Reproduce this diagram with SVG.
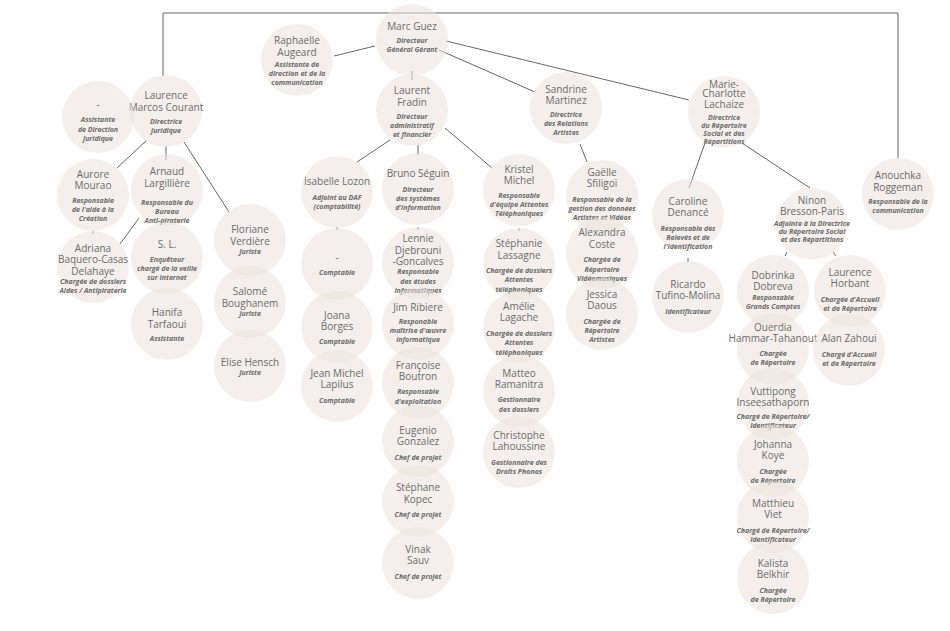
<svg xmlns="http://www.w3.org/2000/svg" width="950" height="631" viewBox="0 0 950 631">
<style>
.n circle{fill:#ebe1dc;fill-opacity:0.55}
.n text{font-family:"Open Sans","Liberation Sans",sans-serif;text-anchor:middle}
.nm{font-size:10px;fill:#6b6b6b}
.r{font-size:7px;fill:#6b6b6b;font-style:italic;font-weight:bold}
#c line,#c polyline{stroke:#666;stroke-width:1;fill:none}
</style>
<rect width="950" height="631" fill="#fff"/>
<g id="c">
<polyline points="163,76 163,13 898,13 898,158"/>
<line x1="375" y1="46" x2="334" y2="56"/>
<line x1="412" y1="71" x2="412" y2="80"/>
<line x1="439" y1="50" x2="535" y2="92"/>
<line x1="446" y1="41" x2="689" y2="100"/>
<line x1="146" y1="141" x2="117" y2="168"/>
<line x1="166" y1="146" x2="166" y2="160"/>
<line x1="184" y1="142" x2="229" y2="212"/>
<line x1="139" y1="218" x2="120" y2="244"/>
<line x1="93" y1="231" x2="93" y2="234"/>
<line x1="390" y1="140" x2="357" y2="162"/>
<line x1="418" y1="145" x2="418" y2="155"/>
<line x1="445" y1="128" x2="492" y2="168"/>
<line x1="337" y1="227" x2="337" y2="230"/>
<line x1="418" y1="227" x2="418" y2="230"/>
<line x1="519" y1="228" x2="519" y2="231"/>
<line x1="580" y1="144" x2="587" y2="162"/>
<line x1="705" y1="143" x2="689" y2="188"/>
<line x1="742" y1="143" x2="810" y2="188"/>
<line x1="688" y1="258" x2="688" y2="262"/>
<line x1="787" y1="252" x2="785" y2="256"/>
<line x1="833" y1="252" x2="836" y2="256"/>
</g>
<g id="marc" class="n"><circle cx="412" cy="40" r="36"/><text class="nm" x="412" y="30">Marc Guez</text><text class="r" x="412" y="43">Directeur</text><text class="r" x="412" y="52">Général Gérant</text></g>
<g id="raphaelle" class="n"><circle cx="297" cy="60" r="36"/><text class="nm" x="297" y="44">Raphaelle</text><text class="nm" x="297" y="56">Augeard</text><text class="r" x="297" y="67">Assistante de</text><text class="r" x="297" y="76">direction et de la</text><text class="r" x="297" y="85">communication</text></g>
<g id="fradin" class="n"><circle cx="412" cy="110" r="36"/><text class="nm" x="412" y="94">Laurent</text><text class="nm" x="412" y="106">Fradin</text><text class="r" x="412" y="119">Directeur</text><text class="r" x="412" y="128">administratif</text><text class="r" x="412" y="137">et financier</text></g>
<g id="sandrine" class="n"><circle cx="566" cy="108" r="36"/><text class="nm" x="566" y="93">Sandrine</text><text class="nm" x="566" y="104">Martinez</text><text class="r" x="566" y="117">Directrice</text><text class="r" x="566" y="126">des Relations</text><text class="r" x="566" y="135">Artistes</text></g>
<g id="mariecharlotte" class="n"><circle cx="724" cy="112" r="36"/><text class="nm" x="724" y="88">Marie-</text><text class="nm" x="724" y="97">Charlotte</text><text class="nm" x="724" y="108">Lachaize</text><text class="r" x="724" y="120">Directrice</text><text class="r" x="724" y="128">du Répertoire</text><text class="r" x="724" y="136">Social et des</text><text class="r" x="724" y="144">Répartitions</text></g>
<g id="anouchka" class="n"><circle cx="898" cy="194" r="36"/><text class="nm" x="898" y="179">Anouchka</text><text class="nm" x="898" y="191">Roggeman</text><text class="r" x="898" y="204">Responsable de la</text><text class="r" x="898" y="213">communication</text></g>
<g id="laurence" class="n"><circle cx="166" cy="111" r="36"/><text class="nm" x="166" y="99">Laurence</text><text class="nm" x="166" y="111">Marcos Courant</text><text class="r" x="166" y="124">Directrice</text><text class="r" x="166" y="133">juridique</text></g>
<g id="assistante" class="n"><circle cx="98" cy="117" r="36"/><text class="nm" x="98" y="108">-</text><text class="r" x="98" y="122">Assistante</text><text class="r" x="98" y="132">de Direction</text><text class="r" x="98" y="141">juridique</text></g>
<g id="aurore" class="n"><circle cx="93" cy="195" r="36"/><text class="nm" x="93" y="178">Aurore</text><text class="nm" x="93" y="189">Mourao</text><text class="r" x="93" y="203">Responsable</text><text class="r" x="93" y="212">de l'aide à la</text><text class="r" x="93" y="221">Création</text></g>
<g id="arnaud" class="n"><circle cx="167" cy="190" r="36"/><text class="nm" x="167" y="175">Arnaud</text><text class="nm" x="167" y="187">Largillière</text><text class="r" x="167" y="205">Responsable du</text><text class="r" x="167" y="214">Bureau</text><text class="r" x="167" y="223">Anti-piraterie</text></g>
<g id="adriana" class="n"><circle cx="93" cy="267" r="36"/><text class="nm" x="93" y="252">Adriana</text><text class="nm" x="93" y="263">Baquero-Casas</text><text class="nm" x="93" y="275">Delahaye</text><text class="r" x="93" y="284">Chargée de dossiers</text><text class="r" x="93" y="293">Aides / Antipiraterie</text></g>
<g id="sl" class="n"><circle cx="167" cy="258" r="36"/><text class="nm" x="167" y="248">S. L.</text><text class="r" x="167" y="262">Enquêteur</text><text class="r" x="167" y="271">chargé de la veille</text><text class="r" x="167" y="280">sur Internet</text></g>
<g id="hanifa" class="n"><circle cx="167" cy="324" r="36"/><text class="nm" x="167" y="316">Hanifa</text><text class="nm" x="167" y="328">Tarfaoui</text><text class="r" x="167" y="341">Assistante</text></g>
<g id="floriane" class="n"><circle cx="250" cy="240" r="36"/><text class="nm" x="250" y="233">Floriane</text><text class="nm" x="250" y="245">Verdière</text><text class="r" x="250" y="254">Juriste</text></g>
<g id="salome" class="n"><circle cx="250" cy="302" r="36"/><text class="nm" x="250" y="295">Salomé</text><text class="nm" x="250" y="307">Boughanem</text><text class="r" x="250" y="316">Juriste</text></g>
<g id="elise" class="n"><circle cx="250" cy="366" r="36"/><text class="nm" x="250" y="366">Elise Hensch</text><text class="r" x="250" y="375">Juriste</text></g>
<g id="isabelle" class="n"><circle cx="337" cy="192" r="36"/><text class="nm" x="337" y="185">Isabelle Lozon</text><text class="r" x="337" y="200">Adjoint au DAF</text><text class="r" x="337" y="209">(comptabilité)</text></g>
<g id="comptable" class="n"><circle cx="337" cy="264" r="36"/><text class="nm" x="337" y="261">-</text><text class="r" x="337" y="275">Comptable</text></g>
<g id="joana" class="n"><circle cx="337" cy="327" r="36"/><text class="nm" x="337" y="319">Joana</text><text class="nm" x="337" y="330">Borges</text><text class="r" x="337" y="344">Comptable</text></g>
<g id="jeanmichel" class="n"><circle cx="337" cy="386" r="36"/><text class="nm" x="337" y="377">Jean Michel</text><text class="nm" x="337" y="388">Lapilus</text><text class="r" x="337" y="403">Comptable</text></g>
<g id="bruno" class="n"><circle cx="418" cy="189" r="36"/><text class="nm" x="418" y="177">Bruno Séguin</text><text class="r" x="418" y="192">Directeur</text><text class="r" x="418" y="201">des systèmes</text><text class="r" x="418" y="210">d'information</text></g>
<g id="lennie" class="n"><circle cx="418" cy="263" r="36"/><text class="nm" x="418" y="242">Lennie</text><text class="nm" x="418" y="254">Djebrouni</text><text class="nm" x="418" y="265">-Goncalves</text><text class="r" x="418" y="274">Responsable</text><text class="r" x="418" y="284">des études</text><text class="r" x="418" y="293">informatiques</text></g>
<g id="jim" class="n"><circle cx="418" cy="324" r="36"/><text class="nm" x="418" y="311">Jim Ribiere</text><text class="r" x="418" y="324">Responable</text><text class="r" x="418" y="333">maîtrise d'œuvre</text><text class="r" x="418" y="342">informatique</text></g>
<g id="francoise" class="n"><circle cx="418" cy="383" r="36"/><text class="nm" x="418" y="369">Françoise</text><text class="nm" x="418" y="380">Boutron</text><text class="r" x="418" y="394">Responsable</text><text class="r" x="418" y="404">d'exploitation</text></g>
<g id="eugenio" class="n"><circle cx="418" cy="441" r="36"/><text class="nm" x="418" y="434">Eugenio</text><text class="nm" x="418" y="445">Gonzalez</text><text class="r" x="418" y="460">Chef de projet</text></g>
<g id="stephanekopec" class="n"><circle cx="418" cy="501" r="36"/><text class="nm" x="418" y="491">Stéphane</text><text class="nm" x="418" y="503">Kopec</text><text class="r" x="418" y="517">Chef de projet</text></g>
<g id="vinak" class="n"><circle cx="418" cy="563" r="36"/><text class="nm" x="418" y="553">Vinak</text><text class="nm" x="418" y="564">Sauv</text><text class="r" x="418" y="579">Chef de projet</text></g>
<g id="kristel" class="n"><circle cx="519" cy="190" r="36"/><text class="nm" x="519" y="173">Kristel</text><text class="nm" x="519" y="184">Michel</text><text class="r" x="519" y="198">Responsable</text><text class="r" x="519" y="207">d'équipe Attentes</text><text class="r" x="519" y="216">Téléphoniques</text></g>
<g id="stephanie" class="n"><circle cx="519" cy="264" r="36"/><text class="nm" x="519" y="247">Stéphanie</text><text class="nm" x="519" y="259">Lassagne</text><text class="r" x="519" y="273">Chargée de dossiers</text><text class="r" x="519" y="282">Attentes</text><text class="r" x="519" y="292">téléphoniques</text></g>
<g id="amelie" class="n"><circle cx="519" cy="327" r="36"/><text class="nm" x="519" y="310">Amélie</text><text class="nm" x="519" y="321">Lagache</text><text class="r" x="519" y="336">Chargée de dossiers</text><text class="r" x="519" y="345">Attentes</text><text class="r" x="519" y="355">téléphoniques</text></g>
<g id="matteo" class="n"><circle cx="519" cy="391" r="36"/><text class="nm" x="519" y="377">Matteo</text><text class="nm" x="519" y="388">Ramanitra</text><text class="r" x="519" y="402">Gestionnaire</text><text class="r" x="519" y="412">des dossiers</text></g>
<g id="christophe" class="n"><circle cx="519" cy="452" r="36"/><text class="nm" x="519" y="439">Christophe</text><text class="nm" x="519" y="450">Lahoussine</text><text class="r" x="519" y="465">Gestionnaire des</text><text class="r" x="519" y="474">Droits Phonos</text></g>
<g id="gaelle" class="n"><circle cx="602" cy="196" r="36"/><text class="nm" x="602" y="176">Gaëlle</text><text class="nm" x="602" y="187">Sfiligoï</text><text class="r" x="602" y="202">Responsable de la</text><text class="r" x="602" y="211">gestion des données</text><text class="r" x="602" y="220">Artistes et Vidéos</text></g>
<g id="alexandra" class="n"><circle cx="602" cy="253" r="36"/><text class="nm" x="602" y="236">Alexandra</text><text class="nm" x="602" y="248">Coste</text><text class="r" x="602" y="262">Chargée de</text><text class="r" x="602" y="272">Répertoire</text><text class="r" x="602" y="281">Vidéomusiques</text></g>
<g id="jessica" class="n"><circle cx="602" cy="314" r="36"/><text class="nm" x="602" y="298">Jessica</text><text class="nm" x="602" y="309">Daous</text><text class="r" x="602" y="324">Chargée de</text><text class="r" x="602" y="333">Répertoire</text><text class="r" x="602" y="342">Artistes</text></g>
<g id="caroline" class="n"><circle cx="688" cy="215" r="36"/><text class="nm" x="688" y="205">Caroline</text><text class="nm" x="688" y="216">Denancé</text><text class="r" x="688" y="231">Responsable des</text><text class="r" x="688" y="240">Relevés et de</text><text class="r" x="688" y="249">l'Identification</text></g>
<g id="ricardo" class="n"><circle cx="688" cy="297" r="36"/><text class="nm" x="688" y="288">Ricardo</text><text class="nm" x="688" y="299">Tufino-Molina</text><text class="r" x="688" y="314">Identificateur</text></g>
<g id="ninon" class="n"><circle cx="812" cy="224" r="36"/><text class="nm" x="812" y="204">Ninon</text><text class="nm" x="812" y="215">Bresson-Paris</text><text class="r" x="812" y="226">Adjointe à la Directrice</text><text class="r" x="812" y="234">du Répertoire Social</text><text class="r" x="812" y="242">et des Répartitions</text></g>
<g id="dobrinka" class="n"><circle cx="773" cy="291" r="36"/><text class="nm" x="773" y="279">Dobrinka</text><text class="nm" x="773" y="290">Dobreva</text><text class="r" x="773" y="300">Responsable</text><text class="r" x="773" y="309">Grands Comptes</text></g>
<g id="horbant" class="n"><circle cx="850" cy="291" r="36"/><text class="nm" x="850" y="276">Laurence</text><text class="nm" x="850" y="287">Horbant</text><text class="r" x="850" y="302">Chargée d'Accueil</text><text class="r" x="850" y="311">et de Répertoire</text></g>
<g id="ouerdia" class="n"><circle cx="773" cy="349" r="36"/><text class="nm" x="773" y="331">Ouerdia</text><text class="nm" x="773" y="342">Hammar-Tahanout</text><text class="r" x="773" y="356">Chargée</text><text class="r" x="773" y="365">de Répertoire</text></g>
<g id="alan" class="n"><circle cx="849" cy="350" r="36"/><text class="nm" x="849" y="342">Alan Zahoui</text><text class="r" x="849" y="357">Chargé d'Accueil</text><text class="r" x="849" y="366">et de Répertoire</text></g>
<g id="vuttipong" class="n"><circle cx="773" cy="404" r="36"/><text class="nm" x="773" y="395">Vuttipong</text><text class="nm" x="773" y="406">Inseesathaporn</text><text class="r" x="773" y="419">Chargé de Répertoire/</text><text class="r" x="773" y="428">Identificateur</text></g>
<g id="johanna" class="n"><circle cx="773" cy="461" r="36"/><text class="nm" x="773" y="448">Johanna</text><text class="nm" x="773" y="459">Koye</text><text class="r" x="773" y="474">Chargée</text><text class="r" x="773" y="483">de Répertoire</text></g>
<g id="matthieu" class="n"><circle cx="773" cy="517" r="36"/><text class="nm" x="773" y="507">Matthieu</text><text class="nm" x="773" y="518">Viet</text><text class="r" x="773" y="533">Chargé de Répertoire/</text><text class="r" x="773" y="542">Identificateur</text></g>
<g id="kalista" class="n"><circle cx="773" cy="578" r="36"/><text class="nm" x="773" y="567">Kalista</text><text class="nm" x="773" y="578">Belkhir</text><text class="r" x="773" y="593">Chargée</text><text class="r" x="773" y="602">de Répertoire</text></g>
</svg>
